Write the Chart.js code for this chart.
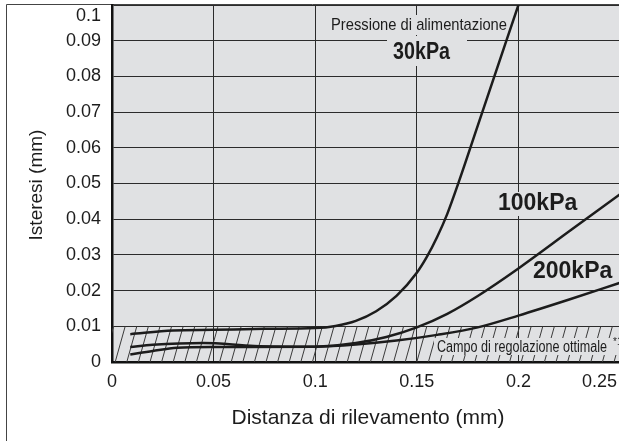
<!DOCTYPE html>
<html>
<head>
<meta charset="utf-8">
<script src="https://cdn.jsdelivr.net/npm/chart.js@4.4.0/dist/chart.umd.min.js"></script>
<style>
  body { margin: 0; background: #fff; }
  #wrap { width: 619px; height: 441px; position: relative; }
</style>
</head>
<body>
<div id="wrap"><canvas id="HysteresisGraph"></canvas></div>
<script>
const ctx = document.getElementById('HysteresisGraph');

// distanza di rilevamento (mm) / isteresi (mm)
const distance30 = [0.009, 0.03, 0.05, 0.075, 0.1, 0.11, 0.12, 0.13, 0.14, 0.15, 0.155, 0.16, 0.165, 0.171, 0.18, 0.2];
const hysteresis30 = [0.0078, 0.0088, 0.009, 0.0093, 0.0095, 0.0101, 0.0115, 0.0142, 0.0185, 0.025, 0.0295, 0.035, 0.0415, 0.051, 0.0662, 0.1];

const distance100 = [0.009, 0.02, 0.045, 0.07, 0.1, 0.12, 0.135, 0.15, 0.165, 0.18, 0.2, 0.225, 0.25];
const hysteresis100 = [0.0042, 0.0048, 0.0053, 0.0045, 0.0043, 0.0053, 0.0070, 0.0097, 0.0135, 0.0185, 0.0262, 0.0366, 0.047];

const distance200 = [0.009, 0.02, 0.032, 0.05, 0.1, 0.12, 0.14, 0.16, 0.18, 0.2, 0.225, 0.25];
const hysteresis200 = [0.0021, 0.0031, 0.0040, 0.0042, 0.0043, 0.0049, 0.006, 0.0076, 0.0097, 0.013, 0.0175, 0.0222];

const xTickValues = [0, 0.05, 0.1, 0.15, 0.2, 0.25];
const xTickLabels = ['0', '0.05', '0.1', '0.15', '0.2', '0.25'];
const yTickValues = [0, 0.01, 0.02, 0.03, 0.04, 0.05, 0.06, 0.07, 0.08, 0.09, 0.1];
const yTickLabels = ['0', '0.01', '0.02', '0.03', '0.04', '0.05', '0.06', '0.07', '0.08', '0.09', '0.1'];

const optimalRange = 0.01;

const FONT = '"Liberation Sans", Arial, Helvetica, sans-serif';
const INK = '#1c1c1c';
const PLOT_BG = '#e0e1e3';

const toPoints = (xs, ys) => xs.map((x, i) => ({ x: x, y: ys[i] }));

// text with a plot-coloured box behind it, so grid lines break round it
function boxedText(c, text, x, y, font, maxWidth, box) {
    c.save();
    c.fillStyle = PLOT_BG;
    c.fillRect(box[0], box[1], box[2], box[3]);
    c.font = font;
    c.fillStyle = INK;
    c.textAlign = 'left';
    c.textBaseline = 'middle';
    c.fillText(text, x, y, maxWidth);
    c.restore();
}

const decor = {
    id: 'decor',
    beforeDraw(chart) {
        const c = chart.ctx;
        const a = chart.chartArea;
        c.save();
        c.fillStyle = '#fff';
        c.fillRect(0, 0, chart.width, chart.height);
        c.fillStyle = PLOT_BG;
        c.fillRect(a.left, a.top, a.right - a.left, a.bottom - a.top);
        // outer frame (left + top, the rest is cropped)
        c.strokeStyle = '#444';
        c.lineWidth = 1;
        c.beginPath();
        c.moveTo(6.5, chart.height);
        c.lineTo(6.5, 4.5);
        c.lineTo(chart.width, 4.5);
        c.stroke();
        c.restore();
    },
    beforeDatasetsDraw(chart) {
        const c = chart.ctx;
        const a = chart.chartArea;
        const ys = chart.scales.y;
        const top = ys.getPixelForValue(optimalRange);
        const bottom = ys.getPixelForValue(0);
        // hatched band 0..0.01
        c.save();
        c.beginPath();
        c.rect(a.left, top, a.right - a.left, bottom - top);
        c.clip();
        c.strokeStyle = '#3a3a3a';
        c.lineWidth = 1;
        c.beginPath();
        for (let x = a.left - 20; x < a.right + 20; x += 11.6) {
            c.moveTo(x, bottom);
            c.lineTo(x + 10, top);
        }
        c.stroke();
        c.restore();

        boxedText(c, 'Campo di regolazione ottimale', 437, 348, '16px ' + FONT, 170, [434, 338, 190, 17]);
        c.save();
        c.font = '10px ' + FONT;
        c.fillStyle = INK;
        c.fillText('*1', 613, 345);
        c.restore();

        boxedText(c, 'Pressione di alimentazione', 331, 25, '17px ' + FONT, 176, [329, 15, 180, 20]);
        boxedText(c, '30kPa', 393, 53, 'bold 23px ' + FONT, 57, [387, 36, 80, 30]);
        boxedText(c, '100kPa', 498, 204, 'bold 23px ' + FONT, 82, [494, 192, 90, 24]);
        boxedText(c, '200kPa', 533, 272, 'bold 23px ' + FONT, 82, [530, 261, 89, 23]);
    },
    afterDraw(chart) {
        const c = chart.ctx;
        const xs = chart.scales.x;
        const ys = chart.scales.y;
        c.save();
        c.fillStyle = INK;
        c.font = '18px ' + FONT;
        c.textBaseline = 'middle';
        c.textAlign = 'right';
        yTickValues.forEach((v, i) => {
            const py = Math.max(ys.getPixelForValue(v), 16);
            c.fillText(yTickLabels[i], 101, py);
        });
        c.textAlign = 'center';
        xTickValues.forEach((v, i) => {
            let px = xs.getPixelForValue(v);
            const w = c.measureText(xTickLabels[i]).width;
            px = Math.min(px, chart.width - 2 - w / 2);
            c.fillText(xTickLabels[i], px, 382);
        });
        c.font = '21px ' + FONT;
        c.fillText('Distanza di rilevamento (mm)', 368, 418);
        c.font = '19px ' + FONT;
        c.translate(37, 185);
        c.rotate(-Math.PI / 2);
        c.fillText('Isteresi (mm)', 0, 0);
        c.restore();
    }
};

const lineStyle = {
    fill: false,
    borderColor: INK,
    borderWidth: 2.5,
    pointRadius: 0,
    cubicInterpolationMode: 'monotone'
};

new Chart(ctx, {
    type: 'line',
    data: {
        datasets: [
            { label: '30kPa', data: toPoints(distance30, hysteresis30), ...lineStyle },
            { label: '100kPa', data: toPoints(distance100, hysteresis100), ...lineStyle },
            { label: '200kPa', data: toPoints(distance200, hysteresis200), ...lineStyle }
        ]
    },
    options: {
        responsive: true,
        maintainAspectRatio: false,
        animation: false,
        layout: { padding: { left: 112, top: 5, right: 0, bottom: 79 } },
        plugins: {
            legend: { display: false },
            tooltip: { enabled: false }
        },
        scales: {
            x: {
                type: 'linear',
                min: 0,
                max: 0.2495,
                afterBuildTicks: (axis) => {
                    axis.ticks = xTickValues.filter(v => v <= axis.max).map(v => ({ value: v }));
                },
                ticks: { display: false },
                grid: { color: '#2b2b2b', lineWidth: 1, drawTicks: false },
                border: { color: '#111', width: 2.5 }
            },
            y: {
                type: 'linear',
                min: 0,
                max: 0.1,
                afterBuildTicks: (axis) => {
                    axis.ticks = yTickValues.map(v => ({ value: v }));
                },
                ticks: { display: false },
                grid: { color: '#2b2b2b', lineWidth: 1, drawTicks: false },
                border: { color: '#111', width: 2.5 }
            }
        }
    },
    plugins: [decor]
});
</script>
</body>
</html>
